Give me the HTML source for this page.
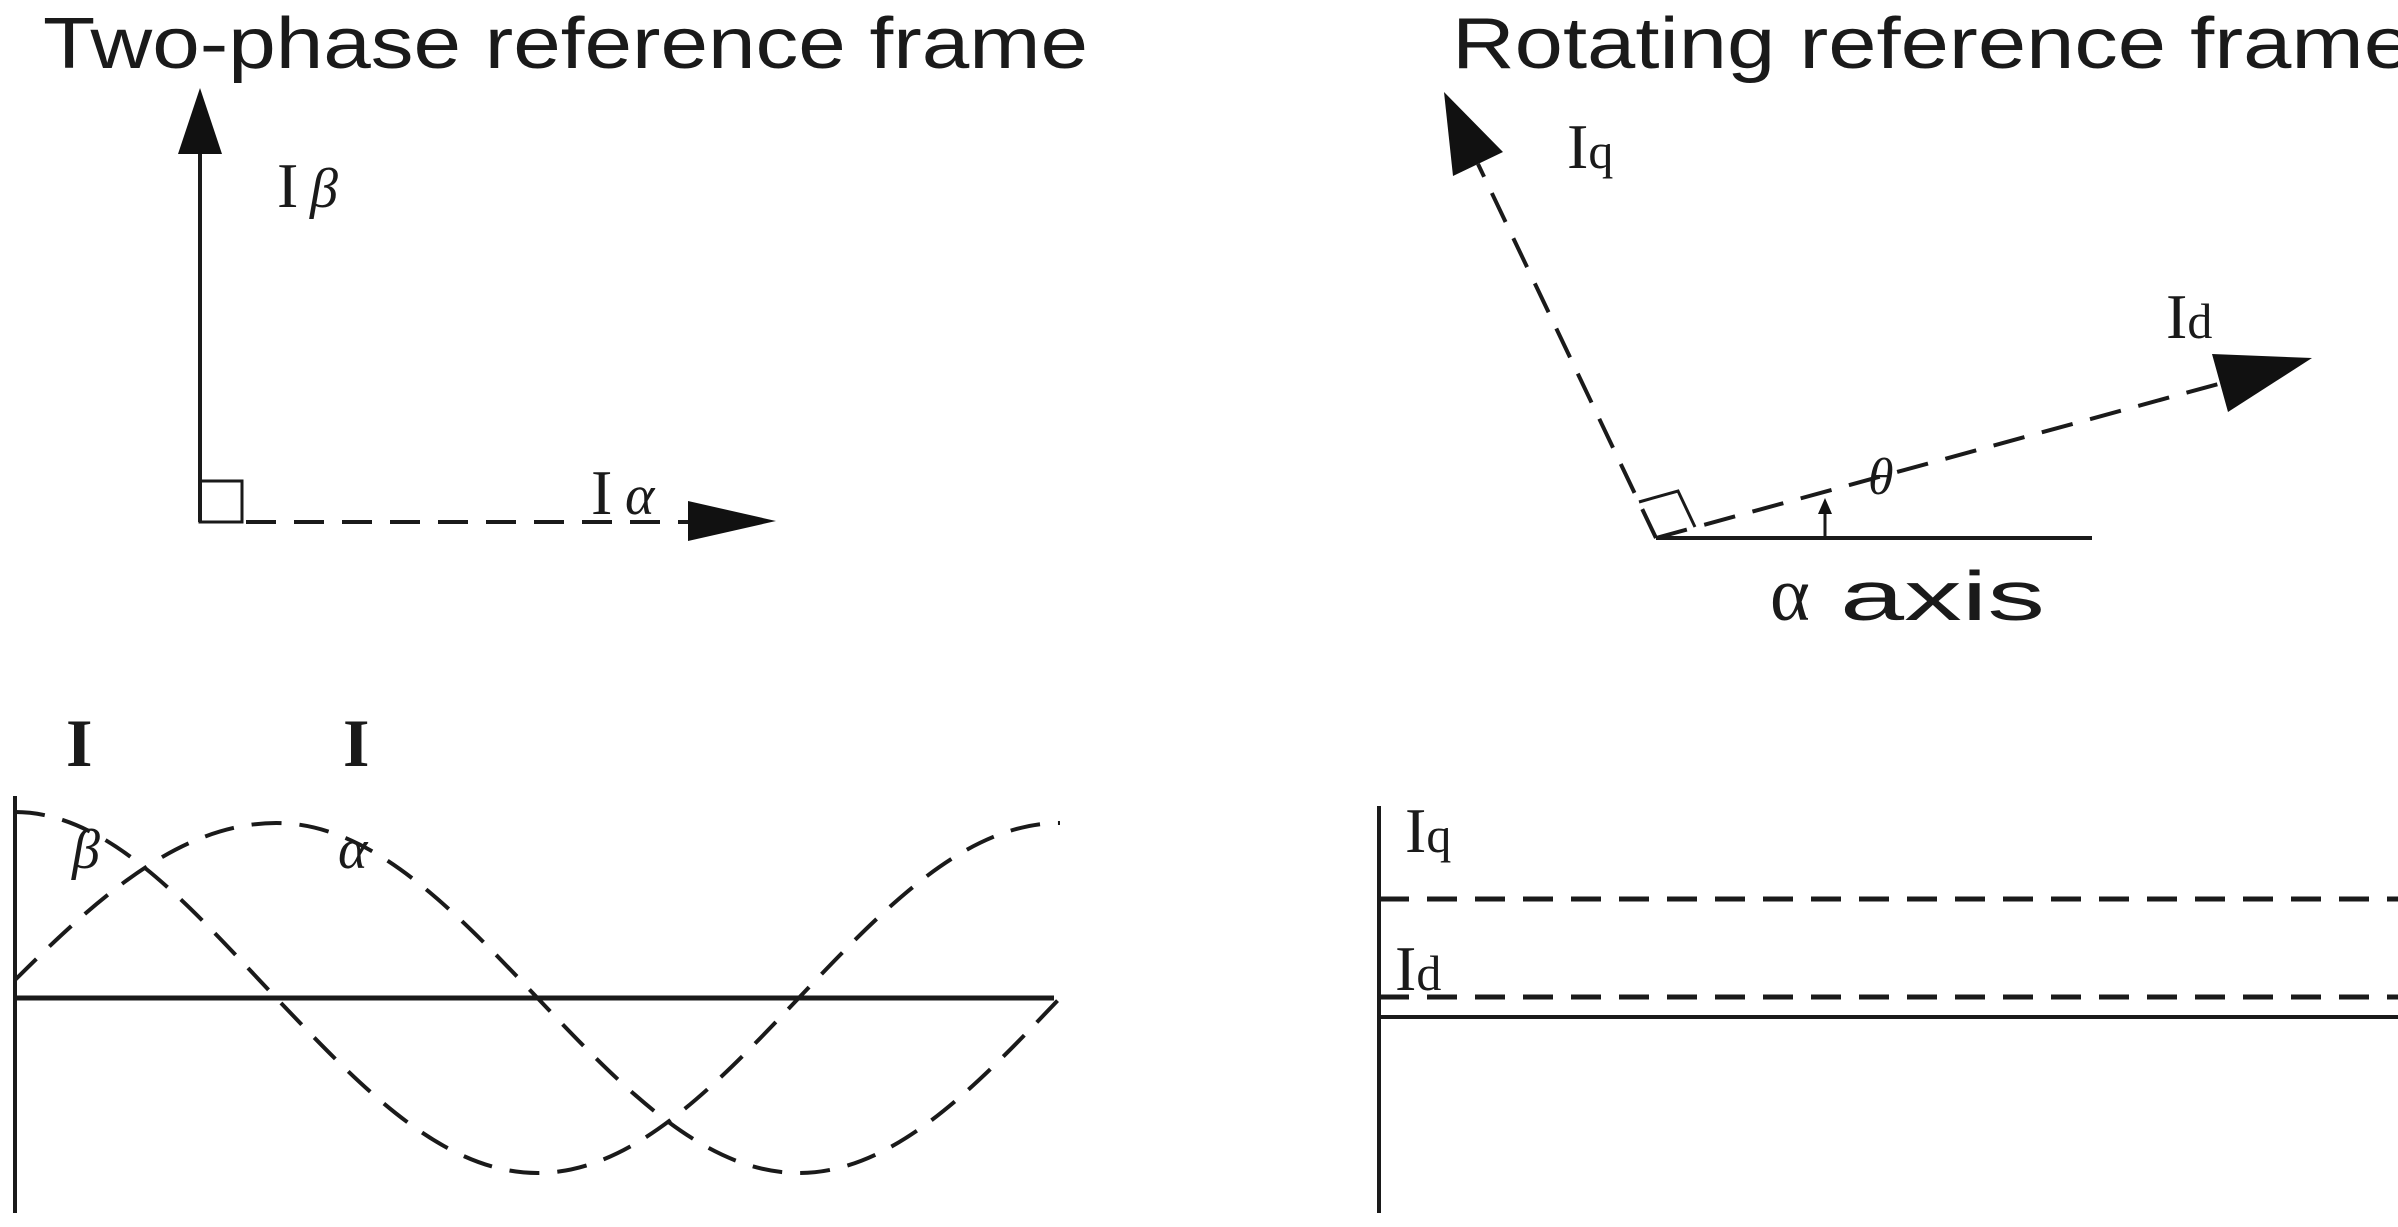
<!DOCTYPE html>
<html><head><meta charset="utf-8"><style>html,body{margin:0;padding:0;background:#fff}svg{display:block}</style></head>
<body>
<svg width="2398" height="1227" viewBox="0 0 2398 1227" xmlns="http://www.w3.org/2000/svg">
<rect width="2398" height="1227" fill="#fff"/>
<g font-family="Liberation Sans, sans-serif" fill="#1a1a1a" font-size="72">
<text x="43" y="68" textLength="1045" lengthAdjust="spacingAndGlyphs">Two-phase reference frame</text>
<text x="1452" y="68" textLength="960" lengthAdjust="spacingAndGlyphs">Rotating reference frame</text>
<text x="1840" y="620" font-size="70" textLength="205" lengthAdjust="spacingAndGlyphs">axis</text>
</g>
<text x="1770" y="620" font-family="Liberation Serif, serif" font-size="76" fill="#1a1a1a">α</text>
<g stroke="#1a1a1a" stroke-width="4" fill="none">
<line x1="200" y1="522" x2="200" y2="150"/>
<rect x="200" y="481" width="42" height="41" stroke-width="3"/>
<line x1="246" y1="522" x2="690" y2="522" stroke-dasharray="30,18"/>
<line x1="1656" y1="538" x2="2092" y2="538"/>
<line x1="1656" y1="538" x2="1478" y2="164" stroke-dasharray="32,18"/>
<line x1="1656" y1="538" x2="2222" y2="383" stroke-dasharray="32,18"/>
<polyline points="1695,527 1678,491 1639,502" stroke-width="3"/>
<line x1="1825" y1="538" x2="1825" y2="505" stroke-width="3"/>
<line x1="15" y1="796" x2="15" y2="1213"/>
<line x1="15" y1="998" x2="1054" y2="998" stroke-width="5"/>
<line x1="1379" y1="806" x2="1379" y2="1213"/>
<line x1="1379" y1="1017" x2="2398" y2="1017"/>
<line x1="1379" y1="899" x2="2398" y2="899" stroke-dasharray="30,18" stroke-width="5"/>
<line x1="1379" y1="997" x2="2398" y2="997" stroke-dasharray="30,18" stroke-width="5"/>
</g>
<g stroke="#1a1a1a" stroke-width="4" fill="none" stroke-dasharray="30,18">
<path d="M15,980 C100.2,895 181.7,823 276.25,823 C370.8,823 452.3,908.3 537.5,998 C622.7,1087.7 704.2,1173 798.75,1173 C893.3,1173 974.8,1087.7 1060,998"/>
<path d="M15,812 C109.55,812 191.05,908.3 276.25,998 C361.45,1087.7 442.95,1173 537.5,1173 C632.05,1173 713.55,1087.7 798.75,998 C883.95,908.3 965.45,823 1060,823"/>
</g>
<g fill="#111">
<polygon points="200,88 178,154 222,154"/>
<polygon points="776,521 688,501 688,541"/>
<polygon points="1444,92 1503,152 1453,176"/>
<polygon points="2312,358 2228,412 2212,354"/>
<polygon points="1825,498 1818,514 1832,514"/>
</g>
<g font-family="Liberation Serif, serif" fill="#1a1a1a">
<text x="277" y="207" font-size="64">I</text><text x="310" y="207" font-size="56" font-style="italic">β</text>
<text x="591" y="514" font-size="64">I</text><text x="625" y="514" font-size="56" font-style="italic">α</text>
<text x="1567" y="168" font-size="64">I<tspan font-size="50">q</tspan></text>
<text x="2166" y="338" font-size="64">I<tspan font-size="50">d</tspan></text>
<text x="1868" y="494" font-size="52" font-style="italic">θ</text>
<text x="66" y="766" font-size="68" font-weight="bold">I</text>
<text x="343" y="766" font-size="68" font-weight="bold">I</text>
<text x="72" y="868" font-size="56" font-style="italic">β</text>
<text x="338" y="868" font-size="56" font-style="italic">α</text>
<text x="1405" y="852" font-size="64">I<tspan font-size="50">q</tspan></text>
<text x="1395" y="990" font-size="64">I<tspan font-size="50">d</tspan></text>
</g>
</svg>
</body></html>
